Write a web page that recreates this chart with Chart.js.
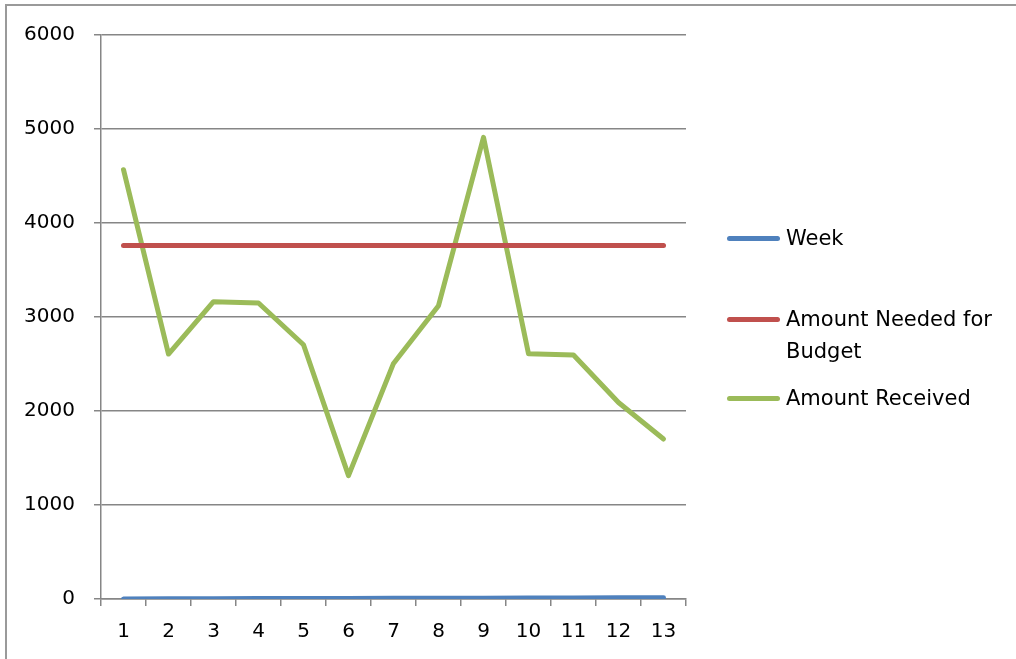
<!DOCTYPE html>
<html>
<head>
<meta charset="utf-8">
<script src="https://cdn.jsdelivr.net/npm/chart.js@4/dist/chart.umd.min.js"></script>
<style>
  html, body { margin: 0; padding: 0; background: #fff; }
  #wrap { position: relative; width: 1016px; height: 659px; overflow: hidden; }
  #frame { position: absolute; left: 5px; top: 4px; right: -10px; bottom: -10px; border-left: 2px solid #9a9a9a; border-top: 2px solid #9a9a9a; pointer-events: none; }
  #c { position: absolute; left: 0; top: 0; }
  #legend { position: absolute; left: 727px; top: 0; font-family: "DejaVu Sans", sans-serif; font-size: 21px; color: #000; }
  .item { position: absolute; left: 0; display: flex; align-items: flex-start; white-space: normal; }
  .swatch { width: 53px; height: 5px; border-radius: 3px; margin-right: 6px; flex: 0 0 auto; }
  .txt { width: 225px; line-height: 32px; }
</style>
</head>
<body>
<div id="wrap">
  <canvas id="c" width="1016" height="659"></canvas>
  <div id="frame"></div>
  <div id="legend"></div>
</div>
<script>
const weeks = ['1','2','3','4','5','6','7','8','9','10','11','12','13'];
const weekValues = [1,2,3,4,5,6,7,8,9,10,11,12,13];
const amountNeeded = [3760,3760,3760,3760,3760,3760,3760,3760,3760,3760,3760,3760,3760];
const amountReceived = [4567,2606,3163,3149,2705,1312,2506,3120,4911,2608,2596,2091,1702];
const seriesNames = ['Week', 'Amount Needed for Budget', 'Amount Received'];
const seriesColors = ['#4F81BD', '#C0504D', '#9BBB59'];
const yTicks = [0,1000,2000,3000,4000,5000,6000];

const axisColor = '#868686';
const font = { family: '"DejaVu Sans", sans-serif', size: 20 };

function ds(i, data) {
  return {
    label: seriesNames[i], data,
    borderColor: seriesColors[i], backgroundColor: seriesColors[i],
    borderWidth: 5, pointRadius: 0, pointHoverRadius: 0,
    borderCapStyle: 'round', borderJoinStyle: 'round', tension: 0
  };
}

const chart = new Chart(document.getElementById('c'), {
  type: 'line',
  data: {
    labels: weeks,
    datasets: [ds(0, weekValues), ds(1, amountNeeded), ds(2, amountReceived)]
  },
  options: {
    responsive: false,
    animation: false,
    devicePixelRatio: 1,
    layout: { padding: { left: 0, right: 330, top: 35, bottom: 0 } },
    plugins: { legend: { display: false }, tooltip: { enabled: false } },
    scales: {
      x: {
        offset: true,
        grid: { offset: true, drawOnChartArea: false, drawTicks: true, tickLength: 7, color: axisColor, lineWidth: 1.5 },
        border: { display: true, color: axisColor, width: 1.5 },
        ticks: { color: '#000', font, padding: 14, maxRotation: 0 },
        afterFit(s) { s.height = 60; }
      },
      y: {
        min: 0, max: 6000,
        afterBuildTicks(s) { s.ticks = yTicks.map(v => ({ value: v })); },
        grid: { color: axisColor, lineWidth: 1.5, drawTicks: true, tickLength: 7 },
        border: { display: true, color: axisColor, width: 1.5 },
        ticks: { color: '#000', font, padding: 19, callback: v => String(v) },
        afterFit(s) { s.width = 101; }
      }
    }
  }
});

// HTML legend built from datasets
const legendEl = document.getElementById('legend');
const legendY = [238, 319, 398];
chart.data.datasets.forEach((d, i) => {
  const item = document.createElement('div');
  item.className = 'item';
  item.style.top = (legendY[i] - 16) + 'px';
  const sw = document.createElement('div');
  sw.className = 'swatch';
  sw.style.background = d.borderColor;
  sw.style.marginTop = '14px';
  const t = document.createElement('div');
  t.className = 'txt';
  t.textContent = d.label;
  item.appendChild(sw);
  item.appendChild(t);
  legendEl.appendChild(item);
});
</script>
</body>
</html>
